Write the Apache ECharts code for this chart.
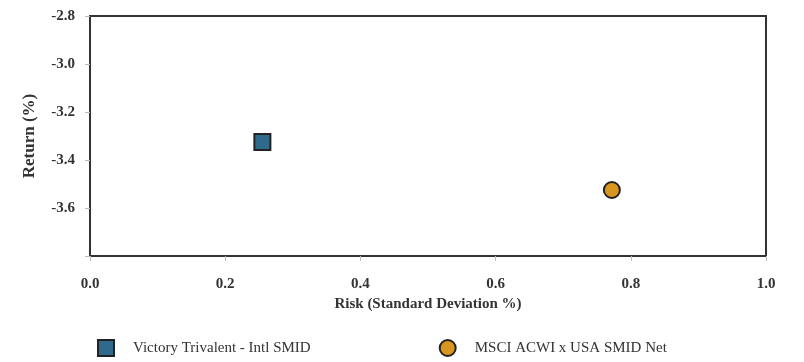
<!DOCTYPE html>
<html>
<head>
<meta charset="utf-8">
<script src="https://cdn.jsdelivr.net/npm/echarts@6/dist/echarts.min.js"></script>
<style>
  html, body { margin: 0; padding: 0; background: #fff; }
  #main { width: 804px; height: 362px; }
</style>
</head>
<body>
<div id="main"></div>
<script>
// series names and their single (risk, return) point
const seriesNames = ["Victory Trivalent - Intl SMID", "MSCI ACWI x USA SMID Net"];
const riskValues = [0.255, 0.772];
const returnValues = [-3.325, -3.525];
const seriesColors = ["#2f6a8c", "#d9961f"];
const seriesSymbols = ["rect", "circle"];

const font = "Liberation Serif";

const chart = echarts.init(document.getElementById("main"));

const option = {
  animation: false,
  textStyle: { fontFamily: font },
  grid: {
    left: 90, right: 38, top: 16, bottom: 106,
    show: true, borderColor: "#333", borderWidth: 2, backgroundColor: "#fff"
  },
  xAxis: {
    type: "value",
    min: 0, max: 1, interval: 0.2,
    name: "Risk (Standard Deviation %)",
    nameLocation: "middle",
    nameGap: 37,
    nameTextStyle: { fontFamily: font, fontWeight: "bold", fontSize: 15, color: "#333" },
    axisLine: { show: false },
    axisTick: { show: true, length: 5, lineStyle: { color: "#bbb" } },
    splitLine: { show: false },
    axisLabel: {
      margin: 21, fontFamily: font, fontWeight: "bold", fontSize: 15, color: "#333",
      formatter: v => v.toFixed(1)
    }
  },
  yAxis: {
    type: "value",
    min: -3.8, max: -2.8, interval: 0.2,
    name: "Return (%)",
    nameLocation: "middle",
    nameGap: 52,
    nameTextStyle: { fontFamily: font, fontWeight: "bold", fontSize: 17, color: "#333" },
    axisLine: { show: false },
    axisTick: { show: true, length: 5, lineStyle: { color: "#bbb" } },
    splitLine: { show: false },
    axisLabel: {
      margin: 15, fontFamily: font, fontWeight: "bold", fontSize: 15, color: "#333",
      formatter: v => (Math.abs(v + 3.8) < 1e-6 ? "" : v.toFixed(1))
    }
  },
  legend: {
    bottom: 0, left: 92,
    itemWidth: 16, itemHeight: 16, itemGap: 128,
    textStyle: { fontFamily: font, fontSize: 15, color: "#333", padding: [0, 0, 0, 14] },
    data: seriesNames.map((n, i) => ({ name: n, icon: seriesSymbols[i] }))
  },
  series: seriesNames.map((n, i) => ({
    name: n,
    type: "scatter",
    symbol: seriesSymbols[i],
    symbolSize: 16,
    itemStyle: { color: seriesColors[i], borderColor: "#222", borderWidth: 2, opacity: 1 },
    data: [[riskValues[i], returnValues[i]]]
  }))
};

chart.setOption(option);
</script>
</body>
</html>
